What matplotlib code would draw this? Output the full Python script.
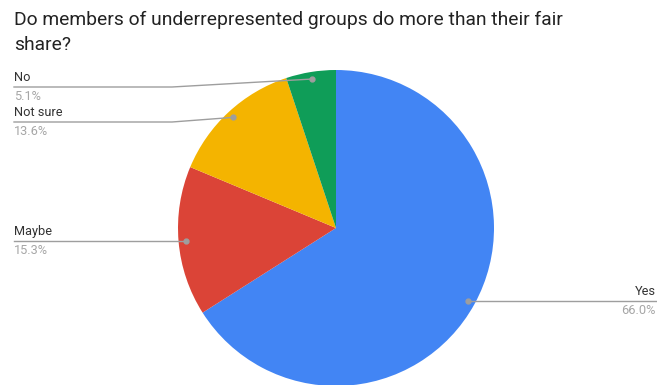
import numpy as np
import matplotlib
matplotlib.use("Agg")
import matplotlib.pyplot as plt

title_lines = ["Do members of underrepresented groups do more than their fair", "share?"]
categories = ["Yes", "Maybe", "Not sure", "No"]
values = [66.0, 15.3, 13.6, 5.1]
colors = ["#4285F4", "#DB4437", "#F4B400", "#0F9D58"]

W, H = 657, 385
plt.rcParams['font.family'] = ['Roboto', 'DejaVu Sans']
fig = plt.figure(figsize=(W / 100, H / 100), dpi=100)
ax = fig.add_axes([0, 0, 1, 1])
ax.set_xlim(0, W)
ax.set_ylim(0, H)
ax.set_aspect('equal')
ax.axis('off')

cx, cy, R = 336, H - 228, 158
wedges, _ = ax.pie(values, colors=colors, startangle=90, counterclock=False,
                   center=(cx, cy), radius=R, frame=True,
                   wedgeprops=dict(linewidth=0))
ax.set_xlim(0, W)
ax.set_ylim(0, H)
ax.axis('off')

for i, line in enumerate(title_lines):
    fig.text(14 / W, 1 - (25 + 25 * i) / H, line, fontsize=13.9, color="#222222",
             ha='left', va='baseline')

# label line y (pixel from top) for each category, side
label_y = {"Yes": None, "Maybe": None, "Not sure": 122, "No": 87}
line_col = "#9e9e9e"
total = sum(values)
cum = 0
for cat, v in zip(categories, values):
    mid = 90 - (cum + v / 2) / total * 360
    cum += v
    a = np.deg2rad(mid)
    dx, dy = cx + 0.955 * R * np.cos(a), cy + 0.955 * R * np.sin(a)
    ax.plot(dx, dy, 'o', ms=3.5, color=line_col, zorder=5)
    if np.cos(a) > 0:
        ly = dy
        ax.plot([dx, W], [ly, ly], color=line_col, lw=1, zorder=4)
        ax.text(W - 1, ly + 3, cat, ha='right', va='bottom', fontsize=9.2, color="#333333")
        ax.text(W - 1, ly - 3, f"{v:.1f}%", ha='right', va='top', fontsize=9.2, color="#a6a6a6")
    else:
        ly = dy if label_y[cat] is None else H - label_y[cat]
        knee = 172 if label_y[cat] is not None else dx
        ax.plot([14, knee, dx], [ly, ly, dy], color=line_col, lw=1, zorder=4)
        ax.text(14, ly + 3, cat, ha='left', va='bottom', fontsize=9.2, color="#333333")
        ax.text(14, ly - 3, f"{v:.1f}%", ha='left', va='top', fontsize=9.2, color="#a6a6a6")

fig.savefig("out.png", dpi=100)
